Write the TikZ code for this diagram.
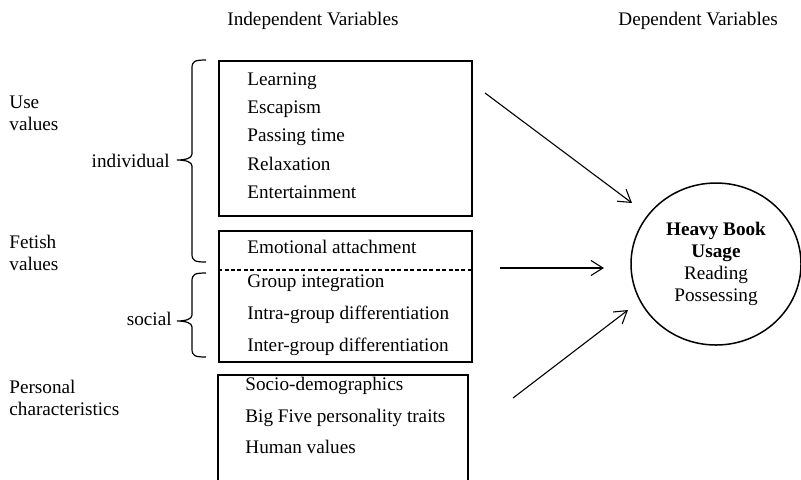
\documentclass[tikz,border=0pt]{standalone}
\usepackage{fontspec}
\setmainfont{Liberation Serif}
\usetikzlibrary{arrows.meta,shapes.geometric}

% left curly brace: x of hooks, top, tip, bottom (y grows downwards)
\newcommand{\leftcurly}[4]{%
  \draw[line width=0.6pt] (#1,#2) .. controls (#1-11,#2) and (#1-14,#2+1) .. (#1-14,#2+8)
    -- (#1-14,#3-6) .. controls (#1-14,#3-2) and (#1-20,#3) .. (#1-29,#3)
    .. controls (#1-20,#3) and (#1-14,#3+2) .. (#1-14,#3+6)
    -- (#1-14,#4-8) .. controls (#1-14,#4-1) and (#1-11,#4) .. (#1,#4);}

\begin{document}
\begin{tikzpicture}[x=0.5pt,y=-0.5pt,
  font=\fontsize{9.6}{11}\selectfont,
  txt/.style={inner sep=0pt,anchor=base west},
  varbox/.style={draw,line width=0.75pt,inner sep=0pt},
  link/.style={line width=0.55pt,-{Straight Barb[length=6pt,width=7.5pt]}}]

\useasboundingbox (0,0) rectangle (801,479);

% headings
\node[txt] (indep) at (227,25) {Independent Variables};
\node[txt] (dep)   at (618,25) {Dependent Variables};

% labels on the left
\node[txt] (use)     at (9,108) {Use};
\node[txt] (usev)    at (9,130) {values};
\node[txt] (fetish)  at (9,248) {Fetish};
\node[txt] (fetishv) at (9,270) {values};
\node[txt] (pers)    at (9,393) {Personal};
\node[txt] (persc)   at (9,415) {characteristics};
\node[inner sep=0pt,anchor=base east] (indiv)  at (170,167) {individual};
\node[inner sep=0pt,anchor=base east] (social) at (172,325) {social};

% braces
\leftcurly{206}{60}{160}{262}
\leftcurly{206}{273}{321}{357}

% boxes
\node[varbox,minimum width=126.5pt,minimum height=77.5pt] (usebox) at (345.5,138.5) {};
\node[varbox,minimum width=126.5pt,minimum height=65.5pt] (fetbox) at (345.5,296.5) {};
\node[varbox,minimum width=125pt,minimum height=62.5pt]   (perbox) at (343,437.5) {};
\draw[dash pattern=on 2pt off 1.2pt,line width=0.6pt]
  (fetbox.west |- 0,270) -- (fetbox.east |- 0,270);

% box contents
\node[txt] (learn)  at (247,85)  {Learning};
\node[txt] (escape) at (247,113) {Escapism};
\node[txt] (pass)   at (247,141) {Passing time};
\node[txt] (relax)  at (247,170) {Relaxation};
\node[txt] (enter)  at (247,198) {Entertainment};

\node[txt] (emo)    at (247,253) {Emotional attachment};
\node[txt] (group)  at (247,287) {Group integration};
\node[txt] (intra)  at (247,319) {Intra-group differentiation};
\node[txt] (inter)  at (247,351) {Inter-group differentiation};

\node[txt] (socio)  at (245,390) {Socio-demographics};
\node[txt] (big5)   at (245,422) {Big Five personality traits};
\node[txt] (human)  at (245,453) {Human values};

% dependent variable
\node[draw,ellipse,line width=0.75pt,minimum width=85pt,minimum height=81pt,
      inner sep=0pt,align=center] (usage) at (716,264)
  {\textbf{Heavy Book}\\\textbf{Usage}\\Reading\\Possessing};

% arrows
\coordinate (s1) at (485,93);  \coordinate (e1) at (632,203);
\coordinate (s2) at (500,268); \coordinate (e2) at (604,268);
\coordinate (s3) at (513,398); \coordinate (e3) at (628,310);
\draw[link] (s1) -- (e1);
\draw[link] (s2) -- (e2);
\draw[link] (s3) -- (e3);
\end{tikzpicture}
\end{document}
